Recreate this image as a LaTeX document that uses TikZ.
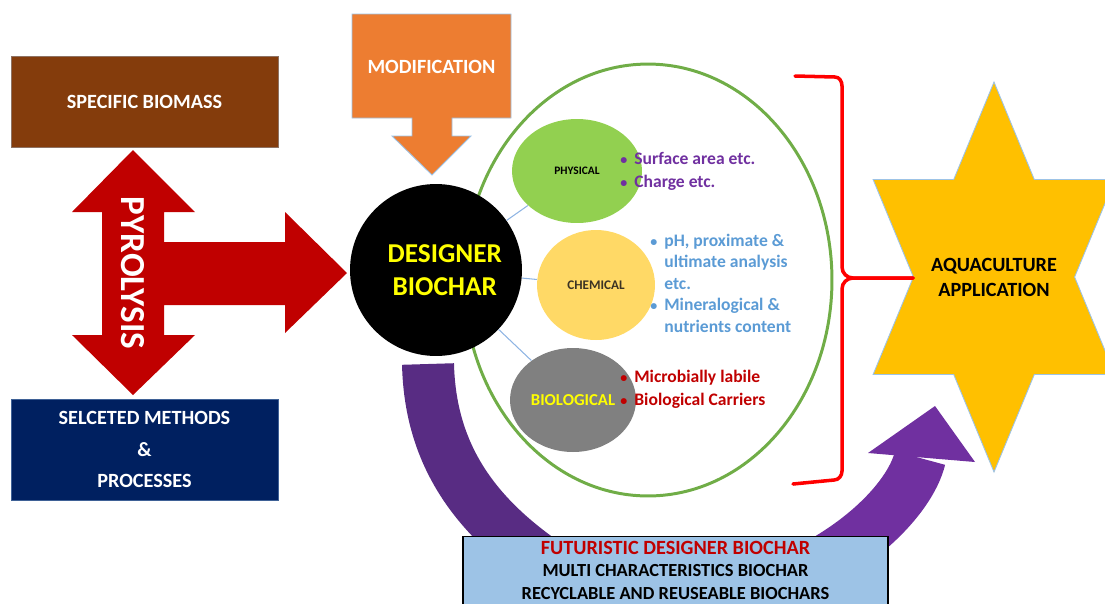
\documentclass[tikz,border=0pt]{standalone}
\usepackage{fontspec}
\setmainfont{Carlito}
\usepackage{tikz}
\usetikzlibrary{shapes.geometric}

\definecolor{biomass}{HTML}{843C0C}
\definecolor{methods}{HTML}{002060}
\definecolor{pyro}{HTML}{C00000}
\definecolor{modif}{HTML}{ED7D31}
\definecolor{edgeblue}{HTML}{9DC3E6}
\definecolor{ring}{HTML}{70AD47}
\definecolor{physfill}{HTML}{92D050}
\definecolor{chemfill}{HTML}{FFD966}
\definecolor{biofill}{HTML}{808080}
\definecolor{yellowtxt}{HTML}{FFFF00}
\definecolor{chemtxt}{HTML}{3B3324}
\definecolor{physnote}{HTML}{7030A0}
\definecolor{chemnote}{HTML}{5B9BD5}
\definecolor{bionote}{HTML}{C00000}
\definecolor{linkblue}{HTML}{8EB4E3}
\definecolor{bracered}{HTML}{FF0000}
\definecolor{aquastar}{HTML}{FFC000}
\definecolor{darkpurple}{HTML}{582C83}
\definecolor{lightpurple}{HTML}{7030A0}
\definecolor{futfill}{HTML}{9DC3E6}
\definecolor{futred}{HTML}{C00000}

\newcommand{\bul}{{\fontsize{8}{8}\selectfont\textbullet}}

\begin{document}
\begin{tikzpicture}[x=0.02cm, y=-0.02cm,
    box/.style={rectangle, fill=#1, draw=#1!60!edgeblue, text=white, inner sep=0pt},
    blob/.style={ellipse, fill=#1, inner sep=0pt},
    link/.style={draw=linkblue, line width=0.6pt},
    note/.style={anchor=west, align=left, inner sep=0pt, font=\bfseries\fontsize{10}{13}\selectfont},
    band/.style={draw=#1, line width=1.04cm},
    bigbrace/.style={draw=bracered, line width=2pt, line cap=round}]
\useasboundingbox (0,0) rectangle (1105,603);

\node[box=biomass, minimum width=5.34cm, minimum height=1.82cm, font=\bfseries\fontsize{11.5}{14}\selectfont] (biomass) at (144.5,101.5) {SPECIFIC BIOMASS};
\node[box=methods, minimum width=5.34cm, minimum height=2.02cm, align=center, font=\bfseries\fontsize{11.5}{18}\selectfont] (methods) at (144.5,449.5) {SELCETED METHODS\\\&\\PROCESSES};

\fill[pyro] (133,150) -- (195,212) -- (164,212) -- (164,242) -- (285,242) -- (285,212) -- (347,273) -- (285,333) -- (285,305) -- (164,305) -- (164,335) -- (195,335) -- (133,395) -- (72,335) -- (102,335) -- (102,212) -- (72,212) -- cycle;
\node[rotate=-90, text=white, font=\bfseries\fontsize{20}{24}\selectfont] (pyrolysis) at (133,273) {PYROLYSIS};

\filldraw[fill=modif, draw=edgeblue, line width=0.5pt] (352,14) -- (511,14) -- (511,118) -- (452,118) -- (452,136) -- (471,136) -- (432,175) -- (392,136) -- (412,136) -- (412,118) -- (352,118) -- cycle;
\node[text=white, font=\bfseries\fontsize{11.5}{14}\selectfont] (modification) at (431.5,67) {MODIFICATION};

\draw[band=darkpurple] (428,364) .. controls (430,450) and (470,510) .. (540,560) .. controls (570,582) and (600,595) .. (640,605);
\draw[band=lightpurple] (760,590) .. controls (850,560) and (910,500) .. (920,458);
\fill[lightpurple] (868,453) -- (935,406) -- (975,462) -- cycle;

\draw[draw=ring, line width=1.7pt] (648,280) ellipse [x radius=3.68cm, y radius=4.32cm];

\node[circle, fill=black, minimum size=3.44cm, inner sep=0pt, text=yellowtxt, align=center, font=\bfseries\fontsize{15.5}{19}\selectfont] (designer) at (436,270) {\hspace*{10pt}DESIGNER\\\hspace*{10pt}BIOCHAR};

\node[blob=physfill, minimum width=2.6cm, minimum height=2.08cm, font=\bfseries\fontsize{6.5}{8}\selectfont] (physical) at (577,171) {PHYSICAL};
\node[blob=chemfill, minimum width=2.36cm, minimum height=2.2cm, text=chemtxt, font=\bfseries\fontsize{7.5}{9}\selectfont] (chemical) at (596,285) {CHEMICAL};
\node[blob=biofill, minimum width=2.52cm, minimum height=2.08cm, text=yellowtxt, font=\bfseries\fontsize{9.5}{11}\selectfont] (biological) at (573,400) {BIOLOGICAL};

\draw[link] (designer) -- (physical);
\draw[link] (designer) -- (chemical);
\draw[link] (designer) -- (biological);

\node[note, text=physnote] (physlist) at (620,171.5) {\begin{tabular}{@{}l@{\hspace{4pt}}l@{}}\bul & Surface area etc.\\ \bul & Charge etc.\end{tabular}};
\node[note, text=chemnote, font=\bfseries\fontsize{10}{12.3}\selectfont] (chemlist) at (650,285) {\begin{tabular}{@{}l@{\hspace{4pt}}l@{}}\bul & pH, proximate \&\\ & ultimate analysis\\ & etc.\\ \bul & Mineralogical \&\\ & nutrients content\end{tabular}};
\node[note, text=bionote] (biolist) at (620,389) {\begin{tabular}{@{}l@{\hspace{4pt}}l@{}}\bul & Microbially labile\\ \bul & Biological Carriers\end{tabular}};

\filldraw[fill=aquastar, draw=edgeblue, line width=0.5pt] (994,82) -- (1034.3,179.5) -- (1114.9,179.5) -- (1074.6,277) -- (1114.9,374.5) -- (1034.3,374.5) -- (994,472) -- (953.7,374.5) -- (873.1,374.5) -- (913.4,277) -- (873.1,179.5) -- (953.7,179.5) -- cycle;
\node[align=center, font=\bfseries\fontsize{11.5}{14}\selectfont] (aquaculture) at (994,277.5) {AQUACULTURE\\APPLICATION};

\coordinate (startip) at (913,278);
\draw[bigbrace] (795,76) -- (835,77) to[out=0,in=90] (842,86) -- (842,267) to[out=-90,in=180] (853,278) -- (startip);
\draw[bigbrace] (startip) -- (853,278) to[out=180,in=90] (842,289) -- (842,471) to[out=-90,in=0] (834,480) -- (793,484);

\node[draw=black, fill=futfill, line width=0.8pt, minimum width=8.5cm, minimum height=1.6cm, anchor=north] (future) at (675.5,536) {};
\node[align=center, font=\bfseries\fontsize{10.5}{12.8}\selectfont] (futuretext) at (675.5,570) {{\color{futred}\fontsize{11.5}{12.8}\selectfont FUTURISTIC DESIGNER BIOCHAR}\\MULTI CHARACTERISTICS BIOCHAR\\RECYCLABLE AND REUSEABLE BIOCHARS};
\end{tikzpicture}
\end{document}
